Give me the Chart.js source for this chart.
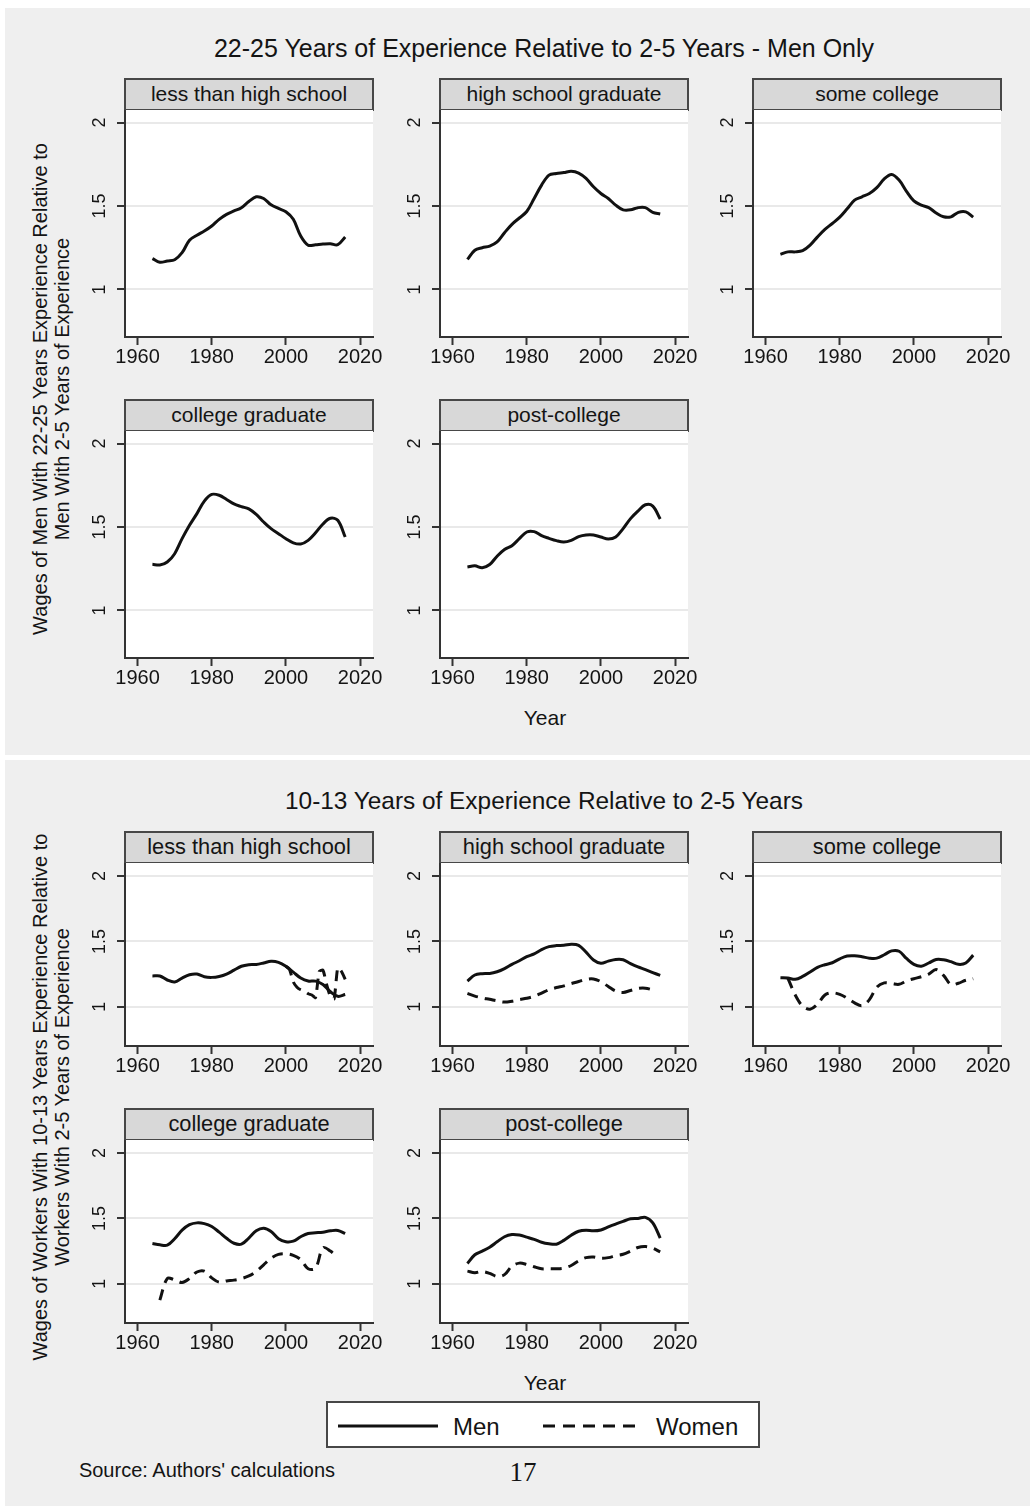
<!DOCTYPE html>
<html>
<head>
<meta charset="utf-8">
<script src="https://cdn.jsdelivr.net/npm/chart.js@4.4.1/dist/chart.umd.min.js"></script>
<style>
  html, body { margin: 0; padding: 0; background: #ffffff; }
  body { width: 1034px; height: 1506px; position: relative; overflow: hidden;
         font-family: "Liberation Sans", Arial, sans-serif; color: #141414; }
  .region { position: absolute; background: #efefef; }
  .c { position: absolute; white-space: nowrap; transform: translate(-50%, -50%); }
  .v { position: absolute; white-space: nowrap; transform: translate(-50%, -50%) rotate(-90deg); }
  .strip { position: absolute; box-sizing: border-box; background: #d8d8d8; border: 2px solid #474747;
           text-align: center; white-space: nowrap; }
  canvas { position: absolute; }
</style>
</head>
<body>
<div class="region" style="left:5px;top:8px;width:1025px;height:747px;"></div>
<div class="region" style="left:5px;top:760px;width:1025px;height:746px;"></div>
<div id="root"></div>

<script>
// ---- data: ratio of wages, read every second year ----
const YEARS = [1964,1966,1968,1970,1972,1974,1976,1978,1980,1982,1984,1986,1988,1990,
               1992,1994,1996,1998,2000,2002,2004,2006,2008,2010,2012,2014,2016];
const X_TICKS = [1960, 1980, 2000, 2020];
const Y_TICKS = [1, 1.5, 2];

const CATEGORIES = ['less than high school', 'high school graduate', 'some college',
                    'college graduate', 'post-college'];

// 22-25 years of experience relative to 2-5 years, men
const MEN25_LTHS = [1.185,1.163,1.17,1.178,1.22,1.295,1.325,1.35,1.38,1.42,1.45,1.47,1.49,1.527,
                    1.555,1.545,1.507,1.485,1.465,1.42,1.32,1.265,1.268,1.272,1.274,1.268,1.314];
const MEN25_HSG  = [1.18,1.235,1.25,1.26,1.285,1.34,1.39,1.428,1.467,1.545,1.625,1.685,1.695,1.70,
                    1.708,1.697,1.665,1.615,1.575,1.545,1.505,1.477,1.477,1.49,1.49,1.462,1.452];
const MEN25_SC   = [1.21,1.225,1.225,1.232,1.265,1.315,1.36,1.395,1.433,1.483,1.535,1.555,1.575,1.61,
                    1.662,1.688,1.655,1.588,1.53,1.505,1.49,1.458,1.435,1.435,1.462,1.465,1.433];
const MEN25_CG   = [1.276,1.272,1.29,1.34,1.43,1.51,1.58,1.655,1.695,1.69,1.665,1.638,1.622,1.608,
                    1.575,1.53,1.49,1.46,1.43,1.405,1.398,1.42,1.465,1.518,1.552,1.54,1.44];
const MEN25_PC   = [1.26,1.267,1.256,1.275,1.325,1.365,1.388,1.43,1.47,1.472,1.448,1.432,1.418,1.41,
                    1.42,1.442,1.452,1.452,1.44,1.428,1.44,1.49,1.55,1.595,1.633,1.625,1.548];

// 10-13 years of experience relative to 2-5 years, men
const MEN13_LTHS = [1.236,1.236,1.205,1.19,1.22,1.245,1.25,1.23,1.225,1.232,1.25,1.28,1.31,1.322,
                    1.324,1.335,1.348,1.34,1.31,1.265,1.22,1.197,1.196,1.17,1.115,1.08,1.094];
const MEN13_HSG  = [1.196,1.243,1.253,1.255,1.268,1.292,1.324,1.352,1.383,1.404,1.437,1.46,1.468,1.47,
                    1.478,1.47,1.418,1.358,1.333,1.349,1.362,1.36,1.33,1.305,1.285,1.262,1.24];
const MEN13_SC   = [1.222,1.22,1.21,1.232,1.266,1.302,1.322,1.337,1.367,1.388,1.39,1.383,1.372,1.372,
                    1.398,1.428,1.425,1.37,1.325,1.31,1.335,1.362,1.36,1.345,1.325,1.335,1.395];
const MEN13_CG   = [1.308,1.298,1.295,1.345,1.41,1.452,1.466,1.46,1.438,1.395,1.348,1.31,1.303,1.35,
                    1.405,1.425,1.40,1.345,1.322,1.326,1.36,1.385,1.39,1.395,1.405,1.408,1.385];
const MEN13_PC   = [1.155,1.222,1.25,1.28,1.321,1.36,1.377,1.373,1.357,1.34,1.318,1.306,1.303,1.332,
                    1.372,1.402,1.41,1.405,1.412,1.435,1.457,1.478,1.497,1.50,1.508,1.466,1.35];

// 10-13 years of experience relative to 2-5 years, women
const WOMEN13_LTHS_YEARS = [2000,2001,2002,2003,2004,2005,2006,2007,2008,2009,2010,2011,2012,2013,2014,2015,2016];
const WOMEN13_LTHS = [1.31,1.285,1.19,1.15,1.13,1.12,1.10,1.09,1.07,1.27,1.28,1.17,1.08,1.06,1.30,1.27,1.21];
const WOMEN13_HSG  = [1.102,1.082,1.068,1.057,1.045,1.036,1.043,1.055,1.065,1.08,1.105,1.13,1.147,1.16,
                      1.178,1.193,1.21,1.213,1.192,1.155,1.12,1.11,1.125,1.14,1.142,1.13,null];
const WOMEN13_SC   = [null,1.22,1.09,1.005,0.982,1.02,1.09,1.107,1.095,1.066,1.03,1.008,1.055,1.15,
                      1.183,1.178,1.172,1.198,1.215,1.23,1.25,1.285,1.24,1.17,1.18,1.203,1.214];
const WOMEN13_CG   = [null,0.875,1.04,1.03,1.01,1.04,1.09,1.097,1.045,1.012,1.022,1.028,1.04,1.06,
                      1.095,1.145,1.195,1.225,1.23,1.218,1.185,1.115,1.12,1.275,1.25,1.2,null];
const WOMEN13_PC   = [1.097,1.085,1.094,1.08,1.056,1.07,1.135,1.158,1.148,1.13,1.115,1.115,1.115,1.12,
                      1.14,1.175,1.20,1.205,1.195,1.20,1.215,1.226,1.25,1.278,1.285,1.272,1.244];

// ---- layout ----
const FONT = '"Liberation Sans", Arial, sans-serif';
const INK = '#141414';
const AXIS = '#333333';
const LINE = '#111111';
const X_MIN = 1956.6, X_MAX = 2023.5;
const COL_LEFT = [125, 440, 753];
const PLOT_W = 248;
const Y_AXIS_W = 45, X_AXIS_H = 36, RIGHT_PAD = 18, STRIP_H = 32;

const FIGURES = [
  { title: '22-25 Years of Experience Relative to 2-5 Years - Men Only', titleY: 48, titleSize: 25,
    rowTop: [110, 431], plotH: 227, yMin: 0.715, yMax: 2.075, stripFont: 21,
    yTitle: ['Wages of Men With 22-25 Years Experience Relative to', 'Men With 2-5 Years of Experience'],
    yTitleY: 389, xTitleY: 718,
    men: [MEN25_LTHS, MEN25_HSG, MEN25_SC, MEN25_CG, MEN25_PC], women: null },
  { title: '10-13 Years of Experience Relative to 2-5 Years', titleY: 801, titleSize: 24.4,
    rowTop: [863, 1140], plotH: 183, yMin: 0.70, yMax: 2.10, stripFont: 21.8,
    yTitle: ['Wages of Workers With 10-13 Years Experience Relative to', 'Workers With 2-5 Years of Experience'],
    yTitleY: 1097, xTitleY: 1383,
    men: [MEN13_LTHS, MEN13_HSG, MEN13_SC, MEN13_CG, MEN13_PC],
    women: [[WOMEN13_LTHS_YEARS, WOMEN13_LTHS], [YEARS, WOMEN13_HSG], [YEARS, WOMEN13_SC],
            [YEARS, WOMEN13_CG], [YEARS, WOMEN13_PC]] }
];

const root = document.getElementById('root');
function addText(cls, x, y, text, css) {
  const d = document.createElement('div');
  d.className = cls;
  d.style.left = x + 'px';
  d.style.top = y + 'px';
  d.textContent = text;
  if (css) Object.assign(d.style, css);
  root.appendChild(d);
  return d;
}

function points(xs, ys) {
  const out = [];
  xs.forEach((x, i) => { if (ys[i] !== null && ys[i] !== undefined) out.push({ x: x, y: ys[i] }); });
  return out;
}

// white plot region behind the lines
const plotBackground = {
  id: 'plotBackground',
  beforeDraw(chart) {
    const a = chart.chartArea, ctx = chart.ctx;
    ctx.save();
    ctx.fillStyle = '#ffffff';
    ctx.fillRect(a.left, a.top, a.right - a.left, a.bottom - a.top);
    ctx.restore();
  }
};

// vertical y tick labels, reading upward
const verticalYLabels = {
  id: 'verticalYLabels',
  afterDraw(chart) {
    const s = chart.scales.y, ctx = chart.ctx;
    ctx.save();
    ctx.font = '18px ' + FONT;
    ctx.fillStyle = INK;
    ctx.textAlign = 'center';
    ctx.textBaseline = 'middle';
    s.ticks.forEach(t => {
      const y = s.getPixelForValue(t.value);
      ctx.save();
      ctx.translate(chart.chartArea.left - 25, y);
      ctx.rotate(-Math.PI / 2);
      ctx.fillText(String(t.value), 0, 0);
      ctx.restore();
    });
    ctx.restore();
  }
};

function makePanel(fig, idx) {
  const row = idx < 3 ? 0 : 1, col = idx % 3;
  const left = COL_LEFT[col], top = fig.rowTop[row];

  const strip = document.createElement('div');
  strip.className = 'strip';
  Object.assign(strip.style, {
    left: (left - 1) + 'px', top: (top - STRIP_H) + 'px', width: (PLOT_W + 2) + 'px',
    height: (STRIP_H + 1) + 'px', fontSize: fig.stripFont + 'px', lineHeight: (STRIP_H - 4) + 'px'
  });
  strip.textContent = CATEGORIES[idx];
  root.appendChild(strip);

  const cv = document.createElement('canvas');
  const w = Y_AXIS_W + PLOT_W + RIGHT_PAD, h = fig.plotH + X_AXIS_H;
  cv.width = w; cv.height = h;
  cv.style.left = (left - Y_AXIS_W) + 'px';
  cv.style.top = top + 'px';
  cv.style.width = w + 'px'; cv.style.height = h + 'px';
  root.appendChild(cv);

  const datasets = [{
    label: 'Men', data: points(YEARS, fig.men[idx]),
    borderColor: LINE, borderWidth: 3, pointRadius: 0, tension: 0.35, fill: false
  }];
  if (fig.women) {
    const wm = fig.women[idx];
    datasets.push({
      label: 'Women', data: points(wm[0], wm[1]),
      borderColor: LINE, borderWidth: 3, borderDash: [11, 7], pointRadius: 0,
      tension: idx === 0 ? 0.2 : 0.35, fill: false
    });
  }

  new Chart(cv, {
    type: 'line',
    data: { datasets: datasets },
    options: {
      responsive: false, animation: false, devicePixelRatio: 1,
      layout: { autoPadding: false, padding: { left: 0, right: RIGHT_PAD, top: 0, bottom: 0 } },
      plugins: { legend: { display: false }, tooltip: { enabled: false } },
      scales: {
        x: {
          type: 'linear', min: X_MIN, max: X_MAX,
          afterBuildTicks: s => { s.ticks = X_TICKS.map(v => ({ value: v })); },
          afterFit: s => { s.height = X_AXIS_H; },
          grid: { drawOnChartArea: false, drawTicks: true, tickLength: 8, tickWidth: 2, tickColor: AXIS },
          border: { color: AXIS, width: 2 },
          ticks: { callback: v => String(v), font: { size: 20, family: FONT }, color: INK,
                   padding: 0, maxRotation: 0, minRotation: 0, autoSkip: false }
        },
        y: {
          type: 'linear', min: fig.yMin, max: fig.yMax,
          afterBuildTicks: s => { s.ticks = Y_TICKS.map(v => ({ value: v })); },
          afterFit: s => { s.width = Y_AXIS_W; },
          grid: { color: '#e9e9e9', lineWidth: 2, drawTicks: true, tickLength: 8, tickWidth: 2, tickColor: AXIS },
          border: { color: AXIS, width: 2 },
          ticks: { display: false }
        }
      }
    },
    plugins: [plotBackground, verticalYLabels]
  });
}

FIGURES.forEach(fig => {
  addText('c', 544, fig.titleY, fig.title, { fontSize: fig.titleSize + 'px' });
  addText('v', 40, fig.yTitleY, fig.yTitle[0], { fontSize: '20px' });
  addText('v', 62, fig.yTitleY, fig.yTitle[1], { fontSize: '20px' });
  addText('c', 545, fig.xTitleY, 'Year', { fontSize: '21px' });
  for (let i = 0; i < CATEGORIES.length; i++) makePanel(fig, i);
});

// legend
const legend = document.createElement('div');
Object.assign(legend.style, {
  position: 'absolute', left: '326px', top: '1401px', width: '434px', height: '47px',
  boxSizing: 'border-box', background: '#ffffff', border: '2px solid #474747'
});
legend.innerHTML =
  '<svg width="430" height="43" style="position:absolute;left:0;top:0">' +
  '<line x1="10" y1="23" x2="110" y2="23" stroke="#111" stroke-width="3"/>' +
  '<line x1="215" y1="23" x2="315" y2="23" stroke="#111" stroke-width="3" stroke-dasharray="12,8"/>' +
  '<text x="125" y="32" font-family="Liberation Sans, Arial, sans-serif" font-size="24" fill="#141414">Men</text>' +
  '<text x="328" y="32" font-family="Liberation Sans, Arial, sans-serif" font-size="24" fill="#141414">Women</text>' +
  '</svg>';
root.appendChild(legend);

addText('c', 207, 1470, "Source: Authors' calculations", { fontSize: '20px' });
addText('c', 523, 1472, '17', { fontSize: '27px', fontFamily: '"Liberation Serif", "DejaVu Serif", serif' });
</script>
</body>
</html>
